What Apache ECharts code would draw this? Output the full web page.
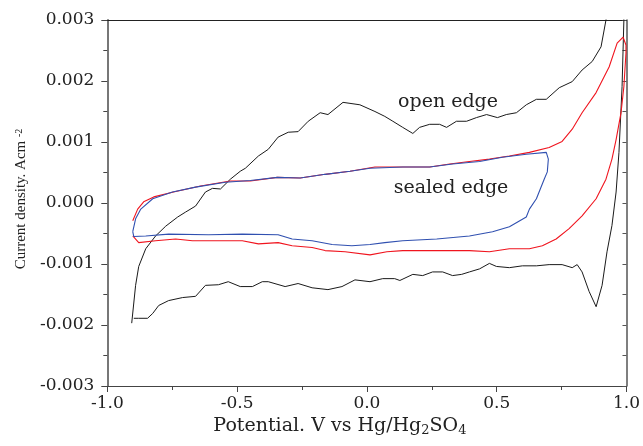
<!DOCTYPE html>
<html>
<head>
<meta charset="utf-8">
<script src="https://cdn.jsdelivr.net/npm/echarts@6/dist/echarts.min.js"></script>
<style>
  html, body { margin: 0; padding: 0; background: #fff; }
  #main { width: 643px; height: 446px; }
</style>
</head>
<body>
<div id="main"></div>
<script>
// potential (V vs Hg/Hg2SO4) and current density (mA cm-2, scaled to A cm-2 below)
var openE = [-0.906,-0.891,-0.879,-0.852,-0.814,-0.775,-0.729,-0.699,-0.660,-0.622,-0.595,-0.564,-0.526,-0.488,-0.468,-0.418,-0.380,-0.342,-0.303,-0.265,-0.226,-0.180,-0.150,-0.092,-0.027,0.031,0.069,0.100,0.138,0.177,0.203,0.242,0.280,0.307,0.345,0.384,0.422,0.461,0.503,0.537,0.576,0.614,0.653,0.691,0.741,0.791,0.829,0.868,0.902,0.921,0.940,0.960,0.980,
  0.990,0.983,0.971,0.960,0.944,0.925,0.906,0.883,0.856,0.829,0.810,0.791,0.752,0.702,0.653,0.599,0.549,0.499,0.472,0.434,0.395,0.365,0.330,0.292,0.253,0.215,0.177,0.127,0.107,0.061,0.012,-0.046,-0.096,-0.150,-0.211,-0.265,-0.315,-0.380,-0.403,-0.441,-0.488,-0.534,-0.572,-0.622,-0.660,-0.710,-0.764,-0.802,-0.825,-0.845,-0.879,-0.898];
var openI = [-1.97,-1.35,-1.04,-0.75,-0.54,-0.38,-0.23,-0.15,-0.05,0.18,0.24,0.23,0.39,0.52,0.57,0.77,0.88,1.08,1.16,1.17,1.34,1.48,1.45,1.65,1.61,1.50,1.42,1.34,1.24,1.14,1.24,1.29,1.29,1.24,1.34,1.34,1.40,1.45,1.40,1.45,1.48,1.61,1.70,1.70,1.89,1.99,2.18,2.32,2.56,3.00,3.60,3.90,3.70,
  3.00,1.91,0.83,0.18,-0.37,-0.80,-1.35,-1.70,-1.45,-1.13,-1.01,-1.06,-1.01,-1.01,-1.03,-1.03,-1.06,-1.04,-0.99,-1.08,-1.13,-1.17,-1.19,-1.13,-1.13,-1.19,-1.17,-1.27,-1.24,-1.24,-1.29,-1.26,-1.37,-1.42,-1.39,-1.32,-1.37,-1.29,-1.29,-1.37,-1.37,-1.29,-1.34,-1.35,-1.53,-1.55,-1.60,-1.68,-1.81,-1.89,-1.89,-1.89];

var sealedE = [-0.902,-0.883,-0.860,-0.821,-0.745,-0.641,-0.526,-0.449,-0.345,-0.257,-0.161,-0.065,0.031,0.088,0.165,0.242,0.319,0.395,0.472,0.549,0.626,0.702,0.752,0.791,0.829,0.883,0.933,0.964,0.987,0.998,0.998,0.990,0.979,0.960,0.944,0.921,0.883,0.829,0.779,0.729,0.676,0.626,0.549,0.472,0.395,0.269,0.138,0.077,0.012,-0.084,-0.161,-0.211,-0.288,-0.342,-0.418,-0.480,-0.595,-0.672,-0.737,-0.814,-0.879,-0.902];
var sealedI = [-0.29,-0.10,0.02,0.10,0.18,0.28,0.36,0.36,0.42,0.41,0.47,0.52,0.59,0.59,0.59,0.59,0.64,0.68,0.72,0.77,0.83,0.91,1.01,1.21,1.48,1.81,2.23,2.62,2.72,2.59,2.46,1.91,1.48,1.04,0.72,0.39,0.07,-0.21,-0.42,-0.59,-0.70,-0.75,-0.75,-0.80,-0.78,-0.78,-0.78,-0.80,-0.85,-0.80,-0.78,-0.73,-0.70,-0.65,-0.67,-0.62,-0.62,-0.62,-0.59,-0.62,-0.65,-0.54];

var smallE = [-0.902,-0.891,-0.871,-0.825,-0.749,-0.660,-0.545,-0.449,-0.345,-0.257,-0.161,-0.065,0.012,0.138,0.242,0.330,0.434,0.522,0.614,0.691,0.699,0.695,0.683,0.653,0.626,0.614,0.549,0.484,0.395,0.269,0.138,0.069,0.012,-0.058,-0.134,-0.211,-0.288,-0.342,-0.480,-0.610,-0.764,-0.852,-0.898,-0.902];
var smallI = [-0.47,-0.26,-0.10,0.07,0.18,0.26,0.34,0.37,0.42,0.41,0.47,0.52,0.57,0.59,0.59,0.64,0.68,0.75,0.80,0.83,0.72,0.51,0.39,0.07,-0.10,-0.23,-0.39,-0.47,-0.54,-0.59,-0.62,-0.65,-0.68,-0.70,-0.68,-0.62,-0.59,-0.52,-0.51,-0.52,-0.51,-0.54,-0.55,-0.47];

var xTicks = [-1.0, -0.5, 0.0, 0.5, 1.0];
var yTicks = [-0.003, -0.002, -0.001, 0.000, 0.001, 0.002, 0.003];

function pairs(e, i) {
    return e.map(function (v, k) { return [v, i[k] / 1000]; });
}

var serif = 'DejaVu Serif';
var myChart = echarts.init(document.getElementById('main'));

var option = {
    backgroundColor: '#fff',
    animation: false,
    grid: { left: 106, right: 15, top: 20, bottom: 58 },
    xAxis: [
        {
            type: 'value',
            min: xTicks[0], max: xTicks[xTicks.length - 1], interval: 0.5,
            name: '{a|Potential. V vs Hg/Hg}{s|2}{a|SO}{s|4}',
            nameLocation: 'middle',
            nameGap: 31,
            nameTextStyle: {
                padding: [0, 54, 0, 0],
                rich: {
                    a: { fontFamily: serif, fontSize: 19, color: '#222', lineHeight: 20, verticalAlign: 'top', padding: [0, 0, 5, 0] },
                    s: { fontFamily: serif, fontSize: 13, color: '#222', lineHeight: 13, verticalAlign: 'bottom' }
                }
            },
            axisLine: { onZero: false, lineStyle: { color: '#444', width: 1.2 } },
            axisTick: { inside: false, length: 6, lineStyle: { color: '#444' } },
            minorTick: { show: true, splitNumber: 2, length: 4, lineStyle: { color: '#444' } },
            splitLine: { show: false },
            axisLabel: {
                margin: 9, fontFamily: serif, fontSize: 17, color: '#222',
                formatter: function (v) { return v.toFixed(1); }
            }
        },
        {
            type: 'value', position: 'top',
            min: xTicks[0], max: xTicks[xTicks.length - 1],
            axisLine: { show: true, onZero: false, lineStyle: { color: '#222', width: 1.2 } },
            axisTick: { show: false }, axisLabel: { show: false }, splitLine: { show: false }
        }
    ],
    yAxis: [
        {
            type: 'value',
            min: yTicks[0], max: yTicks[yTicks.length - 1], interval: 0.001,
            name: '{a|Current density. Acm }{p|-2}',
            nameLocation: 'middle',
            nameGap: 74,
            nameTextStyle: {
                padding: [0, 0, 0, 8],
                rich: {
                    a: { fontFamily: 'Liberation Serif', fontSize: 15, color: '#222', lineHeight: 15, verticalAlign: 'bottom', padding: [6, 0, 0, 0] },
                    p: { fontFamily: 'Liberation Serif', fontSize: 10, color: '#222', lineHeight: 10, verticalAlign: 'top' }
                }
            },
            axisLine: { show: true, onZero: false, lineStyle: { color: '#777', width: 2 } },
            axisTick: { inside: false, length: 6, lineStyle: { color: '#444' } },
            minorTick: { show: true, splitNumber: 2, length: 4, lineStyle: { color: '#444' } },
            splitLine: { show: false },
            axisLabel: {
                margin: 13, fontFamily: serif, fontSize: 17, color: '#222',
                formatter: function (v) { return v.toFixed(3); }
            }
        },
        {
            type: 'value', position: 'right',
            min: yTicks[0], max: yTicks[yTicks.length - 1], interval: 0.0005,
            axisLine: { show: true, onZero: false, lineStyle: { color: '#555', width: 1.5 } },
            axisTick: { inside: true, length: 4, lineStyle: { color: '#555' } },
            axisLabel: { show: false }, splitLine: { show: false }
        }
    ],
    graphic: [
        { type: 'text', x: 448, y: 102, style: { text: 'open edge', fontFamily: serif, fontSize: 19, fill: '#222', align: 'center', verticalAlign: 'middle' } },
        { type: 'text', x: 451, y: 188, style: { text: 'sealed edge', fontFamily: serif, fontSize: 19, fill: '#222', align: 'center', verticalAlign: 'middle' } }
    ],
    series: [
        { name: 'open edge', type: 'line', data: pairs(openE, openI), showSymbol: false, clip: true,
          lineStyle: { color: '#1a1a1a', width: 1 } },
        { name: 'sealed edge', type: 'line', data: pairs(sealedE, sealedI), showSymbol: false, clip: true,
          lineStyle: { color: '#f0141e', width: 1.1 } },
        { name: 'sealed edge 2', type: 'line', data: pairs(smallE, smallI), showSymbol: false, clip: true,
          lineStyle: { color: '#3050b0', width: 1.1 } }
    ]
};

myChart.setOption(option);
</script>
</body>
</html>
